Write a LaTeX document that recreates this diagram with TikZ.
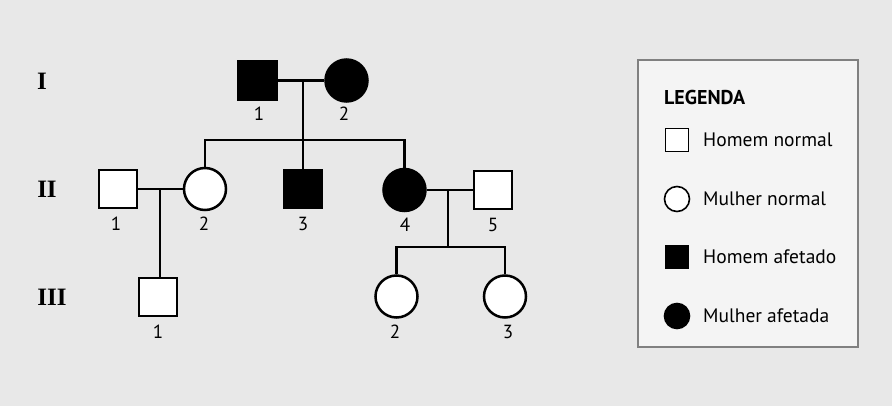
\documentclass[tikz,border=0pt]{standalone}
\usepackage{fontspec}
\setmainfont{PT Sans}
\newfontfamily\romanfont{Liberation Serif}
\usepackage{xcolor}
\usetikzlibrary{positioning}
\definecolor{bgcol}{HTML}{E8E8E8}
\definecolor{boxcol}{HTML}{F4F4F4}
\definecolor{framecol}{HTML}{808080}

\begin{document}
\begin{tikzpicture}[x=1pt,y=-1pt,
    male/.style={draw,line width=2.5pt,rectangle,minimum size=38pt,inner sep=0pt,fill=white},
    female/.style={male,circle,minimum size=42pt},
    aff/.style={fill=black},
    keymale/.style={draw,line width=1.6pt,rectangle,minimum size=23pt,inner sep=0pt,fill=white},
    keyfemale/.style={keymale,circle,minimum size=25pt},
    num/.style={inner sep=0pt,font=\fontsize{19}{19}\selectfont},
    gen/.style={inner sep=0pt,font=\romanfont\bfseries\fontsize{25}{25}\selectfont},
    keytxt/.style={inner sep=0pt,anchor=west,font=\fontsize{19.5}{19.5}\selectfont},
    link/.style={line width=2.4pt}]
    % background and frame
    \fill[bgcol] (0,0) rectangle (892,406);
    \useasboundingbox (0,0) rectangle (892,406);
    
    % generation numbers
    \node[gen] (g1) at (42,81) {I};
    \node[gen] (g2) at (47,189) {II};
    \node[gen] (g3) at (52,297) {III};
    
    % generation I
    \node[male,aff] (I1) at (257.5,80.5) {};
    \node[female,aff] (I2) at (346.5,80.5) {};
    \node[num] at (259,114) {1};
    \node[num] at (344,114) {2};
    
    % generation II
    \node[male] (II1) at (118,189) {};
    \node[female] (II2) at (205,189) {};
    \node[male,aff] (II3) at (303,189) {};
    \node[female,aff] (II4) at (404.5,190) {};
    \node[male] (II5) at (493,190) {};
    \node[num] at (116,224) {1};
    \node[num] at (204,224) {2};
    \node[num] at (303,224) {3};
    \node[num] at (405,225) {4};
    \node[num] at (493,225) {5};
    
    % generation III
    \node[male] (III1) at (158,297) {};
    \node[female] (III2) at (396.5,296.5) {};
    \node[female] (III3) at (505,296.5) {};
    \node[num] at (158,332) {1};
    \node[num] at (395,332) {2};
    \node[num] at (508,332) {3};
    
    % couples and descent
    \coordinate (m1) at (303,80.5);
    \coordinate (s1) at (303,140);
    \draw[link] (I1.east)--(I2.west);
    \draw[link] (m1)--(s1);
    \draw[link] (II2.north)|-(s1)-|(II4.north);
    \draw[link] (s1)--(II3.north);
    
    \coordinate (m2) at (160,189);
    \draw[link] (II1.east)--(II2.west);
    \draw[link] (m2)--(m2|-III1.north);
    
    \coordinate (m3) at (448,190);
    \coordinate (s3) at (448,247);
    \draw[link] (II4.east)--(II5.west);
    \draw[link] (m3)--(s3);
    \draw[link] (III2.north)|-(s3)-|(III3.north);
    
    % legend
    \draw[framecol,fill=boxcol,line width=2pt] (638,60) rectangle (858,347);
    \node[inner sep=0pt,anchor=west,font=\bfseries\fontsize{20}{20}\selectfont] (leg) at (664,98) {LEGENDA};
    \node[keymale] (k1) at (677,140) {};
    \node[keyfemale] (k2) at (677,199) {};
    \node[keymale,aff] (k3) at (677,257) {};
    \node[keyfemale,aff] (k4) at (677,316) {};
    \node[keytxt] at (703,140) {Homem normal};
    \node[keytxt] at (703,199) {Mulher normal};
    \node[keytxt] at (703,257) {Homem afetado};
    \node[keytxt] at (703,316) {Mulher afetada};
\end{tikzpicture}
\end{document}
